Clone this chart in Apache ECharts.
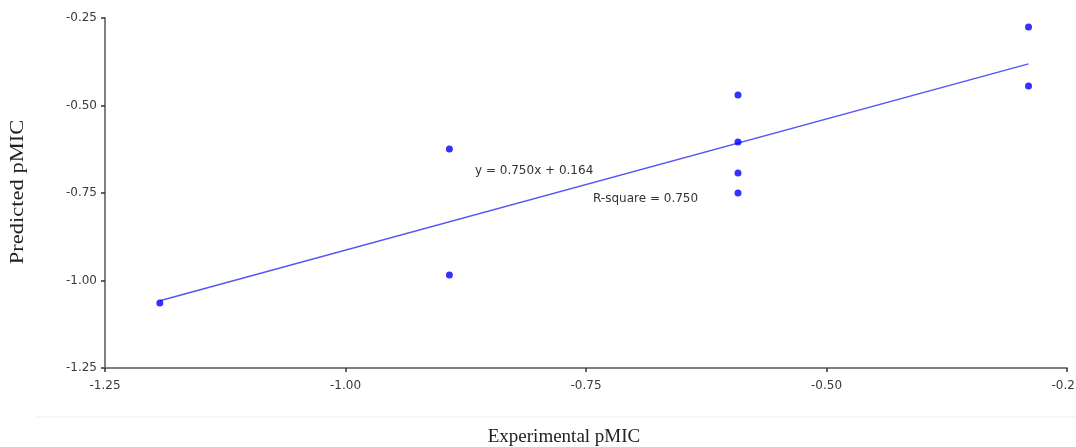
<!DOCTYPE html>
<html>
<head>
<meta charset="utf-8">
<script src="https://cdn.jsdelivr.net/npm/echarts@6/dist/echarts.min.js"></script>
<style>
  html, body { margin: 0; padding: 0; background: #fff; }
  #graph { width: 1076px; height: 447px; }
</style>
</head>
<body>
<div id="graph"></div>
<script>
// experimental vs predicted pMIC
var experimental = [-1.193, -0.892, -0.892, -0.592, -0.592, -0.592, -0.592, -0.290, -0.290];
var predicted = [-1.064, -0.624, -0.984, -0.470, -0.604, -0.693, -0.750, -0.276, -0.444];
// ends of the fitted line
var fitX = [-1.193, -0.290];
var fitY = [-1.058, -0.381];
var equationText = 'y = 0.750x + 0.164';
var rsquareText = 'R-square = 0.750';
var xTitle = 'Experimental pMIC';
var yTitle = 'Predicted pMIC';

var chart = echarts.init(document.getElementById('graph'));

var points = experimental.map((x, i) => [x, predicted[i]]);
var fitLine = fitX.map((x, i) => [x, fitY[i]]);

var tickFont = { fontFamily: 'DejaVu Sans', fontSize: 12, color: '#3a3a3a' };
var noteFont = '12px "DejaVu Sans"';

var option = {
  animation: false,
  grid: { left: 105, right: 9, top: 18, bottom: 79, outerBoundsMode: 'none' },
  xAxis: {
    type: 'value',
    min: -1.25, max: -0.25, interval: 0.25,
    axisLine: { lineStyle: { color: '#808080', width: 2 } },
    axisTick: { show: true, length: 4, lineStyle: { color: '#333', width: 1.5 } },
    axisLabel: Object.assign({ margin: 12, formatter: v => v.toFixed(2) }, tickFont),
    splitLine: { show: false }
  },
  yAxis: {
    type: 'value',
    min: -1.25, max: -0.25, interval: 0.25,
    axisLine: { show: true, lineStyle: { color: '#808080', width: 2 } },
    axisTick: { show: true, length: 4, lineStyle: { color: '#333', width: 1.5 } },
    axisLabel: Object.assign({ margin: 8, formatter: v => v.toFixed(2) }, tickFont),
    splitLine: { show: false }
  },
  graphic: [
    { type: 'line', shape: { x1: 35, y1: 417, x2: 1076, y2: 417 }, style: { stroke: '#eeeeee', lineWidth: 1 } },
    {
      type: 'text', x: 564, y: 437,
      style: { text: xTitle, font: '19px "Liberation Serif"', fill: '#222', align: 'center', verticalAlign: 'middle' }
    },
    {
      type: 'text', x: 18, y: 192, rotation: Math.PI / 2, scaleX: 1.25,
      style: { text: yTitle, font: '18px "Liberation Serif"', fill: '#222', align: 'center', verticalAlign: 'middle' }
    },
    { type: 'text', x: 475, y: 171, style: { text: equationText, font: noteFont, fill: '#333', verticalAlign: 'middle' } },
    { type: 'text', x: 593, y: 199, style: { text: rsquareText, font: noteFont, fill: '#333', verticalAlign: 'middle' } }
  ],
  series: [
    {
      name: 'fit',
      type: 'line',
      data: fitLine,
      symbol: 'none',
      lineStyle: { color: '#5555f5', width: 1.5 },
      z: 1
    },
    {
      name: 'compounds',
      type: 'scatter',
      data: points,
      symbolSize: 7,
      itemStyle: { color: '#0000ff' },
      z: 2
    }
  ]
};

chart.setOption(option);
</script>
</body>
</html>
